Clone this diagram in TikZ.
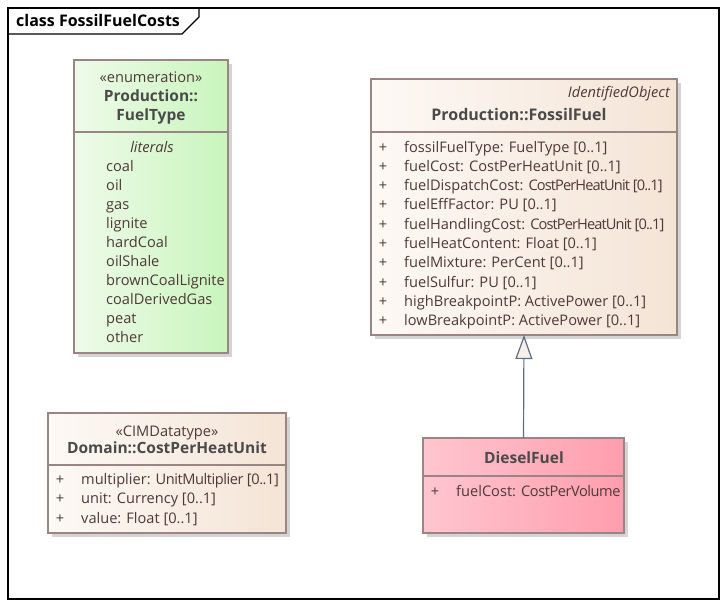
\documentclass[tikz,border=0pt]{standalone}
\usepackage{fontspec}
\setmainfont{Open Sans}
\usepackage{xcolor}
\usetikzlibrary{arrows.meta,calc}

\definecolor{umlText}{HTML}{4E3838}
\definecolor{umlHead}{HTML}{4A4A4A}
\definecolor{umlBorder}{HTML}{9A8484}
\definecolor{umlShadow}{HTML}{D4D4D4}
\definecolor{enumLeft}{HTML}{EEFBEA}
\definecolor{enumRight}{HTML}{C9F5BC}
\definecolor{classLeft}{HTML}{FDF9F5}
\definecolor{classRight}{HTML}{F4E4D6}
\definecolor{dieselLeft}{HTML}{FFC6D0}
\definecolor{dieselRight}{HTML}{FF9DAD}
\definecolor{genLine}{HTML}{5E6C84}
\definecolor{genFill}{HTML}{F6EFEA}

\def\fontS{\fontsize{14.6}{17}\selectfont}
\def\fontH{\fontsize{15.5}{18}\selectfont}
% squeeze long type names a little
\newcommand{\tightT}[2][-4]{{\addfontfeature{LetterSpace=#1}#2}}

%% Macro for a UML class box
% 1: id
% 2,3: top left corner
% 4,5: bottom right corner
% 6: y of the compartment line
% 7,8: shading colours (left, right)
\newcommand{\umlClass}[8]{
    % Draw the shadow
    \fill [umlShadow] (#2+4,#3+4) rectangle (#4+4,#5+4);
    % Draw the body
    \shade [left color=#7,right color=#8] (#2,#3) rectangle (#4,#5);
    \draw [umlBorder,line width=1.2pt] (#2,#3) rectangle (#4,#5);
    \draw [umlBorder,line width=1.2pt] (#2,#6) -- (#4,#6);
    % Generate coordinate
    \coordinate (#1/north) at ($(#2,#3)!0.5!(#4,#3)$);
    \coordinate (#1/south) at ($(#2,#5)!0.5!(#4,#5)$);
}

\begin{document}
\begin{tikzpicture}[x=1pt,y=-1pt]
\tikzset{
    txt/.style={inner sep=0pt,text height=12pt,text depth=2pt},
    head/.style={txt,text=umlHead,font=\fontH\bfseries},
    stereo/.style={txt,text=umlText,font=\fontS},
    attr/.style={txt,anchor=west,text=umlText,font=\fontS},
    vis/.style={txt,text=umlText,font=\fontS},
    generalization/.style={genLine,line width=1.2pt,
        -{Triangle[length=24pt,width=17pt,fill=genFill]}}
}
\useasboundingbox (0,0) rectangle (727,606);

%% Frame of the diagram
\draw [line width=1.3pt] (8,8) rectangle (719,599);
\draw [line width=1.3pt] (8,34) -- (182,34) -- (199,17) -- (199,8);
\node [txt,anchor=west,font=\fontsize{16}{18}\selectfont\bfseries] (title) at (16,21) {class FossilFuelCosts};

%% Enumeration FuelType
\umlClass{ft}{74}{60}{228}{353}{132}{enumLeft}{enumRight}
\node [stereo] (ftStereo) at (151,77) {«enumeration»};
\node [head] (ftName1) at (151,96) {Production::};
\node [head] (ftName2) at (151,115) {FuelType};
\node [stereo,font=\fontS\itshape] (ftLiterals) at (152,147) {literals};
\foreach \lit [count=\xi] in {coal,oil,gas,lignite,hardCoal,oilShale,brownCoalLignite,coalDerivedGas,peat,other}{
    \node [attr] (ft/lit\xi) at (106,147+19.05*\xi) {\lit};
}

%% Class FossilFuel
\umlClass{ff}{371}{79}{677}{335}{132}{classLeft}{classRight}
\node [stereo,anchor=east,font=\fontS\itshape] (ffParent) at (670,92) {IdentifiedObject};
\node [head,font=\fontsize{16}{18}\selectfont\bfseries] (ffName) at (519,115) {Production::FossilFuel};
\foreach \att [count=\xi] in {fossilFuelType: FuelType [0..1],
    fuelCost: CostPerHeatUnit [0..1],
    fuelDispatchCost: \tightT[-6]{CostPerHeatUnit [0..1]},
    fuelEffFactor: PU [0..1],
    fuelHandlingCost: \tightT[-6]{CostPerHeatUnit [0..1]},
    fuelHeatContent: Float [0..1],
    fuelMixture: PerCent [0..1],
    fuelSulfur: PU [0..1],
    highBreakpointP: ActivePower [0..1],
    lowBreakpointP: ActivePower [0..1]}{
    \node [vis] (ff/vis\xi) at (383,127.7+19.3*\xi) {+};
    \node [attr] (ff/att\xi) at (404,127.7+19.3*\xi) {\att};
}

%% Datatype CostPerHeatUnit
\umlClass{cphu}{48}{413}{286}{533}{465}{classLeft}{classRight}
\node [stereo] (cphuStereo) at (167,431) {«CIMDatatype»};
\node [head] (cphuName) at (167,448) {Domain::CostPerHeatUnit};
\foreach \att [count=\xi] in {multiplier: \tightT[-3]{UnitMultiplier [0..1]},
    unit: Currency [0..1],
    value: Float [0..1]}{
    \node [vis] (cphu/vis\xi) at (60,460.5+19.2*\xi) {+};
    \node [attr] (cphu/att\xi) at (81,460.5+19.2*\xi) {\att};
}

%% Class DieselFuel
\umlClass{df}{423}{438}{624}{533}{476}{dieselLeft}{dieselRight}
\node [head] (dfName) at (524,458) {DieselFuel};
\node [vis] (df/vis1) at (435,491) {+};
\node [attr] (df/att1) at (456,491) {fuelCost: \tightT[-3]{CostPerVolume}};

%% Generalization
\draw [generalization] (df/north) -- (ff/south);

\end{tikzpicture}
\end{document}
